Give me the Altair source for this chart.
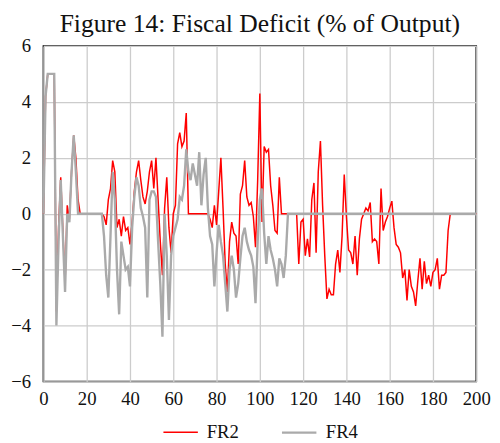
import altair as alt
import pandas as pd

# period index 0..200
periods = list(range(0, 201))

fr2 = [
    0, 4.2, 5, 5, 5, 5, -3.5, -0.5, 1.3, -0.6,
    -2.5, 0.3, -0.2, 1.5, 2.8, 2.0, 0.5, 0, 0, 0,
    0, 0, 0, 0, 0, 0, 0, 0, -0.1, -0.4,
    0.5, 0.9, 1.9, 1.5, -0.5, -0.2, -0.8, -0.1, -0.6, -0.5,
    -1.1, -0.3, 0.8, 1.5, 1.9, 1.2, 0.6, 0.35, 0.8, 1.5,
    1.9, 0.9, 2.0, 0.5, -1.0, -2.2, 0.2, 1.3, -0.5, -1.4,
    0.0, 0.3, 2.5, 2.9, 2.4, 2.6, 3.6, 0, 0, 0,
    0, 0, 0, 0, 0, 0, 0, -0.2, -0.5, 0.3,
    -0.4, 0.8, 2.0, 0.2, -1.8, -2.8, -1.0, -0.3, -0.7, -0.8,
    -1.8, 0.7, 1.0, 1.9, 0.6, 0.3, 0.4, -0.1, -1.2, 1.2,
    4.3, -0.3, 2.4, 2.2, 2.3, 1.0, 0.3, -0.6, -0.7, 1.3,
    0, 0, 0, 0, 0, 0, 0, 0, -1.8, -0.3,
    -0.2, -1.5, -0.9, -1.55, 0.5, 1.1, -1.4, 1.5, 2.6, 0.3,
    -1.5, -3.05, -2.7, -2.9, -2.9, -1.8, -1.3, -2.1, -0.8, 1.4,
    -0.1, -1.3, -1.4, -1.8, -0.8, -2.2, -0.9, -0.2, 0, 0.2,
    0.1, 0.4, -1.0, -0.9, -1.0, -1.8, 0.9, -0.6, -0.3, -0.1,
    0.2, 0.45, -0.5, -1.1, -1.2, -1.4, -2.3, -2.0, -3.1, -2.0,
    -2.6, -2.8, -3.3, -2.4, -1.6, -2.7, -1.7, -2.5, -2.2, -2.6,
    -2.1, -2.0, -1.6, -2.7, -2.2, -2.2, -2.1, -0.6, 0, 0,
    0, 0, 0, 0, 0, 0, 0, 0, 0, 0,
    0,
]

fr4 = [
    0, 4.2, 5, 5, 5, 5, -4.0, -1.0, 1.2, -0.8,
    -2.8, 0.0, -0.3, 1.5, 2.8, 1.5, 0.0, 0, 0, 0,
    0, 0, 0, 0, 0, 0, 0, 0, -0.8, -2.2,
    -3.0, -0.8, 1.5, 0.5, -2.0, -3.6, -1.0, -1.5, -2.0, -1.9,
    -2.6, -0.5, 0.6, 1.3, 1.0, 0.2, -0.1, -0.5, -3.0, 0.5,
    0.8, 0.8, 0.6, -1.0, -2.5, -4.4, 0.0, -1.5, -3.8, -1.5,
    -0.8, -0.5, -0.2, 0.6, 0.5, 1.0, 2.3, 1.5, 1.2, 1.8,
    1.4, 1.0, 2.2, 0.3, 1.4, 2.0, 0.2, -0.8, -1.1, -2.6,
    -1.4, -0.4, -1.0, -1.5, -2.5, -3.5, -2.0, -1.5, -2.0, -3.0,
    -2.5, -1.6, -0.8, -0.5, -1.0, -1.3, -1.5, -1.9, -3.2, -1.0,
    0.5, 0.9, -0.7, -1.8, -0.8, -1.3, -1.6, -2.0, -2.6, -1.6,
    -1.8, -2.3, -1.5, 0, 0, 0, 0, 0, 0, 0,
] + [0] * 81

series_names = ["FR2", "FR4"]
series_colors = ["#ff0000", "#aaaaaa"]
series_widths = [1.5, 2.4]
x_ticks = list(range(0, 201, 20))
y_ticks = list(range(-6, 7, 2))

rows = []
for name, vals in zip(series_names, [fr2, fr4]):
    for t, v in zip(periods, vals):
        rows.append({"t": t, "v": v, "series": name})
df = pd.DataFrame(rows)

SERIF = "Liberation Serif"

chart = alt.Chart(df).mark_line().encode(
    x=alt.X("t:Q", scale=alt.Scale(domain=[0, 200], nice=False),
            axis=alt.Axis(values=x_ticks, title=None, ticks=False, domain=False,
                          labelFont=SERIF, labelFontSize=19, labelColor="#111",
                          labelPadding=8, gridColor="#cccccc", gridWidth=1.3,
                          labelFlush=False)),
    y=alt.Y("v:Q", scale=alt.Scale(domain=[-6, 6], nice=False),
            axis=alt.Axis(values=y_ticks, title=None, ticks=False, domain=False,
                          labelFont=SERIF, labelFontSize=19, labelColor="#111",
                          labelPadding=13, gridColor="#cccccc", gridWidth=1.3)),
    color=alt.Color("series:N",
                    scale=alt.Scale(domain=series_names, range=series_colors),
                    legend=alt.Legend(orient="none", legendX=121, legendY=374,
                                      direction="horizontal", title=None,
                                      symbolType="stroke", symbolSize=1225,
                                      symbolStrokeWidth=1.5, labelFont=SERIF,
                                      labelFontSize=19, labelColor="#111",
                                      labelOffset=8, columnPadding=38)),
    strokeWidth=alt.StrokeWidth("series:N",
                                scale=alt.Scale(domain=series_names, range=series_widths),
                                legend=None),
).properties(
    width=440,
    height=341,
    title=alt.TitleParams("Figure 14: Fiscal Deficit (% of Output)", font=SERIF,
                          fontSize=26, fontWeight="normal", color="#111",
                          anchor="middle", offset=0),
    autosize=alt.AutoSizeParams(type="none"),
    padding={"left": 36, "top": 35, "right": 16, "bottom": 59},
).configure_view(
    stroke="black", strokeWidth=1.6
)

chart.save("out.html", embed_options={"renderer": "svg", "actions": False})
